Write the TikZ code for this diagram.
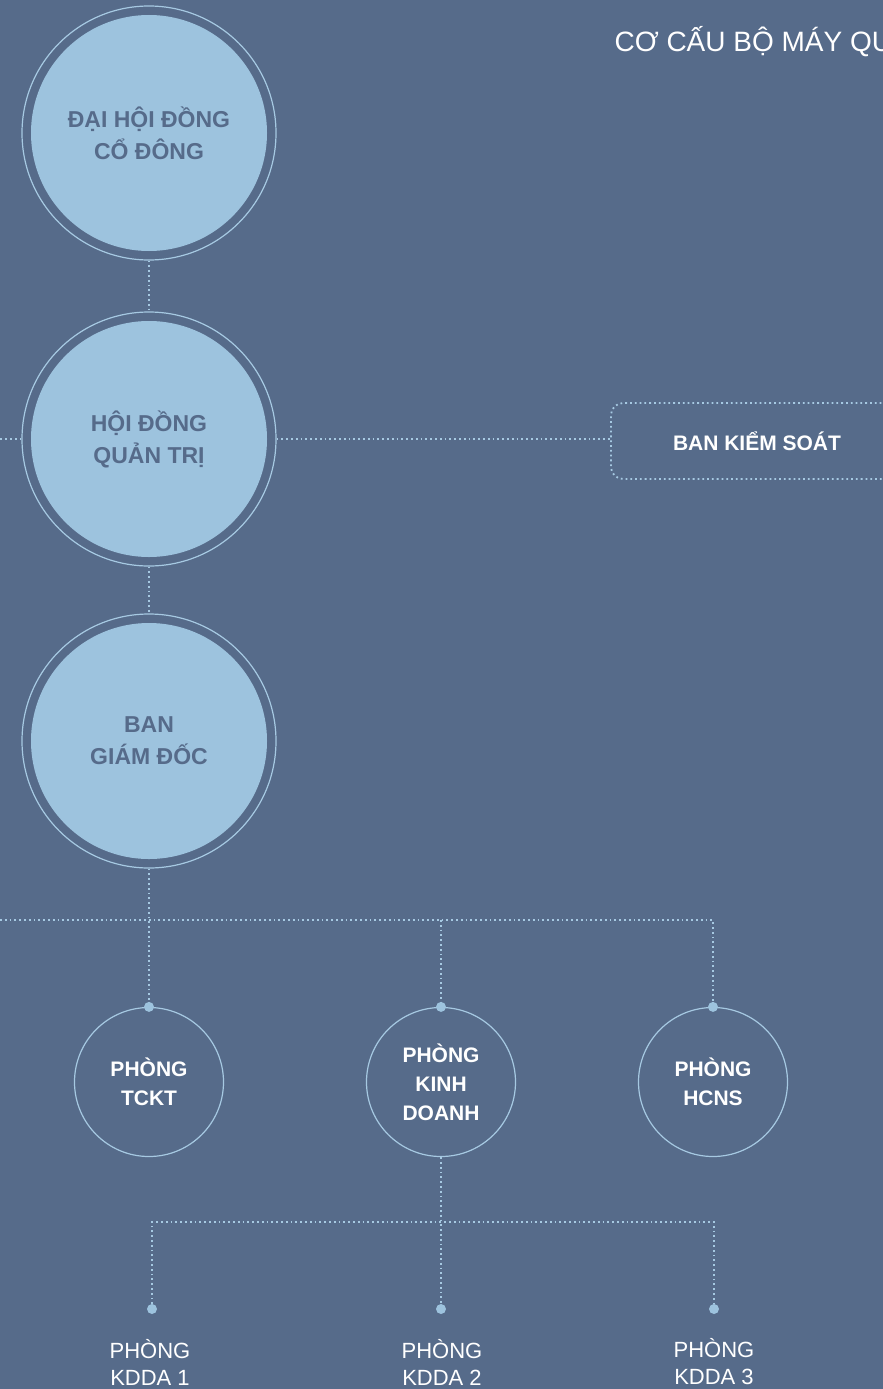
\documentclass[tikz,border=0pt]{standalone}
\usepackage{fontspec}
\setmainfont{Liberation Sans}
\definecolor{bgblue}{HTML}{566B8A}
\definecolor{lightblue}{HTML}{9DC3DE}
\definecolor{lineblue}{HTML}{A6C9E2}
\tikzset{
    bigcircle/.style={circle, draw=lineblue, line width=1.2pt, minimum size=254pt, inner sep=0pt,
        align=center, text=bgblue, font=\fontsize{23}{32}\selectfont\bfseries,
        path picture={\fill[lightblue] (path picture bounding box.center) circle (118pt);}},
    smallcircle/.style={circle, draw=lineblue, line width=1.2pt, minimum size=149pt, inner sep=0pt,
        align=center, text=white, font=\fontsize{21}{29}\selectfont\bfseries},
    roombox/.style={rectangle, rounded corners=12pt, draw=lineblue, line width=1.8pt,
        dash pattern=on 1.8pt off 3pt, minimum width=292pt, minimum height=76pt,
        text=white, font=\fontsize{21}{26}\selectfont\bfseries},
    leaflabel/.style={align=center, text=white, font=\fontsize{22}{27}\selectfont},
    link/.style={draw=lineblue, line width=1.8pt, dash pattern=on 1.8pt off 3pt},
    dot/.style={fill=lightblue}
}
\begin{document}
\begin{tikzpicture}[x=1pt, y=-1pt]

        \useasboundingbox (0, 0) rectangle (883, 1389);
        \clip (0, 0) rectangle (883, 1389);
        \fill [bgblue] (0, 0) rectangle (883, 1389);

        \node (title) at (611, 52) [anchor = base west, text = white, font = \fontsize{28}{34}\selectfont] {CƠ CẤU BỘ MÁY QU};

        \node (dhdcd) at (149, 133) [bigcircle] {ĐẠI HỘI ĐỒNG\\CỔ ĐÔNG};
        \node (hdqt) at (149, 439) [bigcircle] {HỘI ĐỒNG\\QUẢN TRỊ};
        \node (bgd) at (149, 741) [bigcircle] {BAN\\GIÁM ĐỐC};
        \node (bks) at (757, 441) [roombox] {BAN KIỂM SOÁT};

        \node (tckt) at (149, 1082) [smallcircle] {PHÒNG\\TCKT};
        \node (pkd) at (441, 1082) [smallcircle] {PHÒNG\\KINH\\DOANH};
        \node (hcns) at (713, 1082) [smallcircle] {PHÒNG\\HCNS};

        \coordinate (left1) at (0, 439);
        \coordinate (left2) at (0, 920);
        \coordinate (bar) at (0, 1222);
        \coordinate (k1) at (152, 1309);
        \coordinate (k2) at (441, 1309);
        \coordinate (k3) at (714, 1309);

        \draw [link] (dhdcd) -- (hdqt);
        \draw [link] (hdqt) -- (bgd);
        \draw [link] (hdqt.west) -- (left1);
        \draw [link] (hdqt.east) -- (hdqt.east -| bks.west);

        \draw [link] (bgd) -- (tckt);
        \draw [link] (left2) -- (hcns.north |- left2) -- (hcns.north);
        \draw [link] (pkd.north |- left2) -- (pkd.north);

        \draw [link] (pkd.south) -- (k2);
        \draw [link] (k1) -- (k1 |- bar) -- (k3 |- bar) -- (k3);

        \foreach \n in {tckt, pkd, hcns}
            \fill [dot] (\n.north) circle (5pt);
        \foreach \n in {k1, k2, k3}
            \fill [dot] (\n) circle (5pt);

        \node (kdda1) at (150, 1362) [leaflabel] {PHÒNG\\KDDA 1};
        \node (kdda2) at (442, 1362) [leaflabel] {PHÒNG\\KDDA 2};
        \node (kdda3) at (714, 1362) [leaflabel] {PHÒNG\\KDDA 3};

    \end{tikzpicture}
\end{document}
